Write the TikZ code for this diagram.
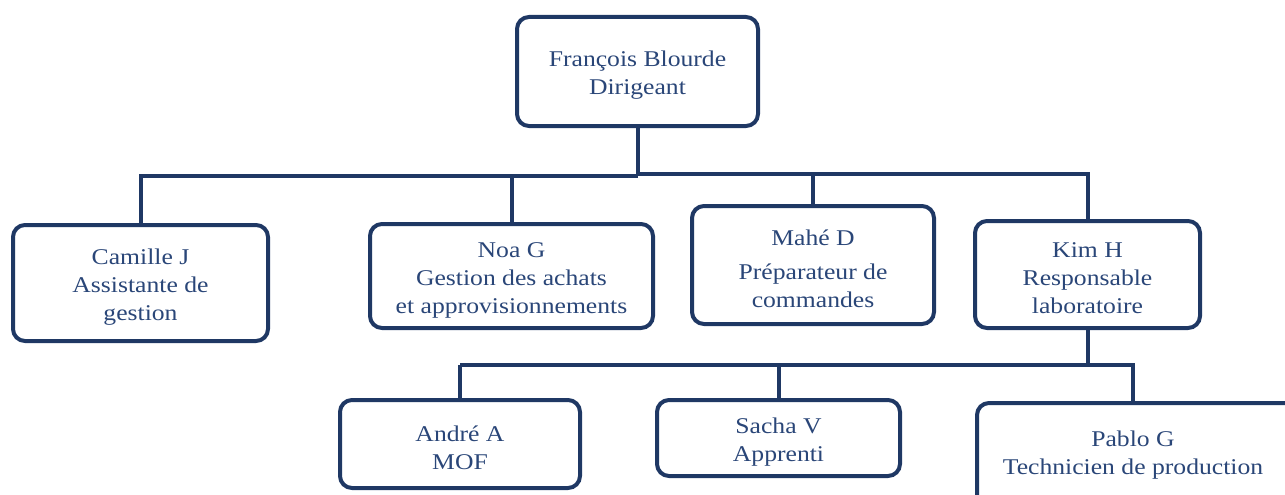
\documentclass[tikz,border=0pt]{standalone}
\usepackage{fontspec}
\setmainfont{Liberation Serif}[FakeStretch=1.14]
\definecolor{navy}{RGB}{31,56,100}
\definecolor{txt}{RGB}{42,70,120}
\begin{document}
\begin{tikzpicture}[x=1pt,y=-1pt,
  box/.style={draw=navy, line width=4pt, rounded corners=12pt, fill=white, inner sep=0pt},
  lbl/.style={text=txt, align=center, inner sep=0pt, font=\fontsize{22.5}{28}\selectfont, yshift=-4pt},
  link/.style={draw=navy, line width=4pt}]
\useasboundingbox (0,0) rectangle (1285,495);
\clip (0,0) rectangle (1285,495);
\node[box, minimum width=241pt, minimum height=109pt, label={[lbl]center:François Blourde\\Dirigeant}] (top) at (637.5,71.5) {};
\node[box, minimum width=255pt, minimum height=116pt, label={[lbl]center:Camille J\\Assistante de\\gestion}] (camille) at (140.5,283) {};
\node[box, minimum width=283pt, minimum height=104pt, label={[lbl]center:Noa G\\Gestion des achats\\et approvisionnements}] (noa) at (511.5,276) {};
\node[box, minimum width=242pt, minimum height=118pt, label={[lbl]center:Mahé D\\[6pt]Préparateur de\\commandes}] (mahe) at (813,265) {};
\node[box, minimum width=225pt, minimum height=107pt, label={[lbl]center:Kim H\\Responsable\\laboratoire}] (kim) at (1087.5,274.5) {};
\node[box, minimum width=240pt, minimum height=88pt, label={[lbl]center:André A\\MOF}] (andre) at (460,444) {};
\node[box, minimum width=243pt, minimum height=76pt, label={[lbl]center:Sacha V\\Apprenti}] (sacha) at (778.5,438) {};
\node[box, minimum width=320pt, minimum height=108pt, anchor=north west] (pablo) at (975,401) {};
\node[lbl] (pablot) at (1133,451) {Pablo G\\Technicien de production};
% level 1
\coordinate (j1) at (top.south |- 0,176);
\draw[link] (top.south) -- (j1);
\draw[link] (j1) -- (camille.north |- j1) -- (camille.north);
\draw[link] (noa.north |- j1) -- (noa.north);
\coordinate (j1r) at (top.south |- 0,174);
\draw[link] (j1r) -- (kim.north |- j1r) -- (kim.north);
\draw[link] (mahe.north |- j1r) -- (mahe.north);
% level 2
\coordinate (j2) at (kim.south |- 0,365);
\draw[link] (kim.south) -- (j2);
\draw[link] (andre.north |- j2) -- (andre.north);
\draw[link] (andre.north |- j2) -- (1133,365) -- (1133,401);
\draw[link] (sacha.north |- j2) -- (sacha.north);
\end{tikzpicture}
\end{document}
